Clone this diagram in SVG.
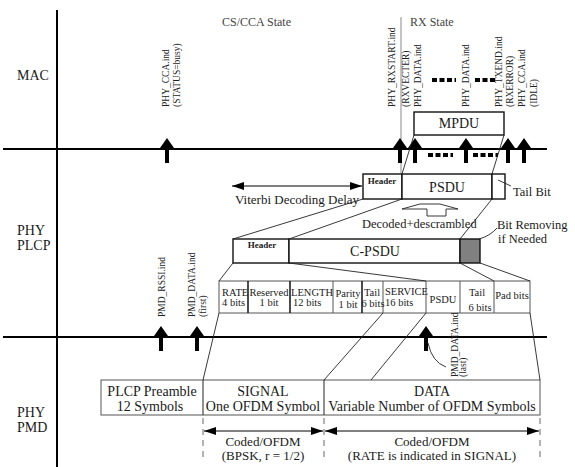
<svg xmlns="http://www.w3.org/2000/svg" width="575" height="467" viewBox="0 0 575 467">
<defs>
<style>
text{font-family:"Liberation Serif","Times New Roman",serif;fill:#1a1a1a}
.lane{font-size:14px}
.st{font-size:12px;fill:#444}
.v{font-size:9.5px;fill:#222}
.f{font-size:10.5px}
.big{font-size:14px}
.dt{font-size:13px}
.hd{font-size:9px;font-weight:bold}
.box{fill:#fff;stroke:#111;stroke-width:1.4}
.thin{stroke:#222;stroke-width:0.9;fill:none}
.axis{stroke:#000;stroke-width:2;fill:none}
.cell{fill:#fff;stroke:#555;stroke-width:1}
.dash{stroke:#000;stroke-width:4;stroke-dasharray:5 2.5}
.ddim{stroke:#666;stroke-width:1;stroke-dasharray:6 5}
.dim{stroke:#000;stroke-width:1}
</style>
<path id="ua" d="M0,0 L7,10 L2,10 L2,25 L-2,25 L-2,10 L-7,10 Z" fill="#000"/>
<marker id="tri" viewBox="0 0 12 8" refX="12" refY="4" markerWidth="12" markerHeight="8" markerUnits="userSpaceOnUse" orient="auto-start-reverse"><path d="M0,0 L12,4 L0,8 Z" fill="#000"/></marker>
</defs>

<g id="axes">
<line class="axis" x1="57" y1="10" x2="57" y2="467"/>
<line class="axis" x1="3" y1="149" x2="547" y2="149"/>
<line class="axis" x1="3" y1="337" x2="547" y2="337"/>
<line x1="401" y1="17" x2="401" y2="173" stroke="#888" stroke-width="1"/>
</g>

<g id="lane-labels">
<text class="lane" x="17" y="80">MAC</text>
<text class="lane" x="17" y="235">PHY</text>
<text class="lane" x="17" y="250">PLCP</text>
<text class="lane" x="17" y="417">PHY</text>
<text class="lane" x="17" y="432">PMD</text>
<text class="st" x="222" y="26">CS/CCA State</text>
<text class="st" x="410" y="26">RX State</text>
</g>

<g id="mac-primitives">
<text class="v" transform="translate(169,107) rotate(-90)">PHY_CCA.ind</text>
<text class="v" transform="translate(180,107) rotate(-90)">(STATUS=busy)</text>
<text class="v" transform="translate(395,107) rotate(-90)">PHY_RXSTART.ind</text>
<text class="v" transform="translate(409,107) rotate(-90)">(RXVECTER)</text>
<text class="v" transform="translate(421,107) rotate(-90)">PHY_DATA.ind</text>
<text class="v" transform="translate(469,107) rotate(-90)">PHY_DATA.ind</text>
<text class="v" transform="translate(502,107) rotate(-90)">PHY_TXEND.ind</text>
<text class="v" transform="translate(513,107) rotate(-90)">(RXERROR)</text>
<text class="v" transform="translate(525,107) rotate(-90)">PHY_CCA.ind</text>
<text class="v" transform="translate(537,107) rotate(-90)">(IDLE)</text>
<line class="dash" x1="432" y1="80" x2="456" y2="80"/>
<line class="dash" x1="475" y1="80" x2="496" y2="80"/>
</g>

<g id="mpdu">
<rect class="box" x="414" y="112" width="90" height="23"/>
<text class="big" x="459" y="128" text-anchor="middle">MPDU</text>
</g>

<g id="mac-arrows">
<use href="#ua" x="167" y="138"/>
<use href="#ua" x="400" y="138"/>
<use href="#ua" x="415" y="138"/>
<use href="#ua" x="466" y="138"/>
<use href="#ua" x="508" y="138"/>
<use href="#ua" x="524" y="138"/>
<line class="dash" x1="428" y1="155" x2="453" y2="155"/>
<line class="dash" x1="473" y1="155" x2="498" y2="155"/>
</g>

<g id="psdu-row">
<rect class="box" x="363" y="174" width="39" height="25"/>
<rect class="box" x="402" y="174" width="90" height="25"/>
<rect class="box" x="492" y="174" width="13" height="25"/>
<text class="hd" x="382" y="184" text-anchor="middle">Header</text>
<text class="big" x="447" y="192" text-anchor="middle">PSDU</text>
<text style="font-size:12.5px" x="513" y="196">Tail Bit</text>
</g>

<g id="viterbi">
<line class="dim" x1="232" y1="186" x2="362" y2="186" marker-start="url(#tri)" marker-end="url(#tri)"/>
<text style="font-size:13px" x="235" y="204">Viterbi Decoding Delay</text>
</g>

<g id="decode-arrow">
<path d="M402,209 L420,204 L440,204 L458,209 L446,209 L446,216 L427,216 L427,209 Z" fill="#fff" stroke="#222" stroke-width="0.9"/>
<text style="font-size:12.5px" x="362" y="228">Decoded+descrambled</text>
</g>

<g id="cpsdu-row">
<rect class="box" x="233" y="239" width="56" height="24"/>
<rect class="box" x="289" y="239" width="171" height="24"/>
<rect x="460" y="239" width="20" height="24" fill="#808080" stroke="#111" stroke-width="1.4"/>
<text class="hd" x="262" y="248" text-anchor="middle">Header</text>
<text class="big" x="375" y="256" text-anchor="middle">C-PSDU</text>
<text style="font-size:12.5px" x="497" y="229">Bit Removing</text>
<text style="font-size:12.5px" x="498" y="243">if Needed</text>
</g>

<g id="fields">
<rect class="cell" x="219" y="281" width="311" height="32"/>
<g stroke="#111" stroke-width="1.5">
<line x1="248" y1="281" x2="248" y2="313"/>
<line x1="290" y1="281" x2="290" y2="313"/>
<line x1="362" y1="281" x2="362" y2="313"/>
</g>
<g stroke="#555" stroke-width="1">
<line x1="333" y1="281" x2="333" y2="313"/>
<line x1="383" y1="281" x2="383" y2="313"/>
<line x1="426" y1="281" x2="426" y2="313"/>
<line x1="460" y1="281" x2="460" y2="313"/>
<line x1="494" y1="281" x2="494" y2="313"/>
</g>
<text class="f" x="222" y="296">RATE</text>
<text class="f" x="222" y="306">4 bits</text>
<text class="f" x="269" y="296" text-anchor="middle">Reserved</text>
<text class="f" x="269" y="306" text-anchor="middle">1 bit</text>
<text class="f" x="291" y="296">LENGTH</text>
<text class="f" x="293" y="306">12 bits</text>
<text class="f" x="348" y="297" text-anchor="middle">Parity</text>
<text class="f" x="348" y="308" text-anchor="middle">1 bit</text>
<text class="f" x="372" y="296" text-anchor="middle">Tail</text>
<text class="f" x="373" y="307" text-anchor="middle">6 bits</text>
<text class="f" x="385" y="295">SERVICE</text>
<text class="f" x="385" y="306">16 bits</text>
<text class="f" x="443" y="303" text-anchor="middle">PSDU</text>
<text class="f" x="477" y="296" text-anchor="middle">Tail</text>
<text class="f" x="480" y="311" text-anchor="middle">6 bits</text>
<text class="f" x="512" y="299" text-anchor="middle">Pad bits</text>
</g>

<g id="pmd-primitives">
<text class="v" transform="translate(165,317) rotate(-90)">PMD_RSSI.ind</text>
<text class="v" transform="translate(195,317) rotate(-90)">PMD_DATA.ind</text>
<text class="v" transform="translate(206,317) rotate(-90)">(first)</text>
<text class="v" transform="translate(458,377) rotate(-90)">PMD_DATA.ind</text>
<text class="v" transform="translate(466,377) rotate(-90)">(last)</text>
<use href="#ua" x="161" y="326"/>
<use href="#ua" x="197" y="326"/>
<use href="#ua" x="426" y="326"/>
</g>

<g id="ppdu">
<rect class="cell" x="101" y="380" width="439" height="35" stroke="#222"/>
<line x1="203" y1="380" x2="203" y2="415" stroke="#222" stroke-width="1"/>
<line x1="324" y1="380" x2="324" y2="415" stroke="#222" stroke-width="1"/>
<text class="big" x="152" y="396" text-anchor="middle">PLCP Preamble</text>
<text class="big" x="150" y="411" text-anchor="middle">12 Symbols</text>
<text class="big" x="263" y="396" text-anchor="middle">SIGNAL</text>
<text class="big" x="263" y="411" text-anchor="middle">One OFDM Symbol</text>
<text class="big" x="432" y="396" text-anchor="middle">DATA</text>
<text class="big" x="432" y="411" text-anchor="middle">Variable Number of OFDM Symbols</text>
</g>

<g id="dimensions">
<line class="ddim" x1="203" y1="418" x2="203" y2="462"/>
<line class="ddim" x1="324" y1="418" x2="324" y2="462"/>
<line class="ddim" x1="540" y1="418" x2="540" y2="462"/>
<line class="dim" x1="204" y1="431" x2="323" y2="431" marker-start="url(#tri)" marker-end="url(#tri)"/>
<line class="dim" x1="325" y1="431" x2="539" y2="431" marker-start="url(#tri)" marker-end="url(#tri)"/>
<text class="dt" x="263" y="446" text-anchor="middle">Coded/OFDM</text>
<text class="dt" x="263" y="460" text-anchor="middle">(BPSK, r = 1/2)</text>
<text class="dt" x="432" y="446" text-anchor="middle">Coded/OFDM</text>
<text class="dt" x="432" y="460" text-anchor="middle">(RATE is indicated in SIGNAL)</text>
</g>

<g id="connectors" class="thin">
<line x1="414" y1="135" x2="402" y2="174"/>
<line x1="504" y1="135" x2="492" y2="174"/>
<line x1="498" y1="180" x2="511" y2="186"/>
<line x1="363" y1="199" x2="233" y2="239"/>
<line x1="402" y1="199" x2="289" y2="239"/>
<line x1="492" y1="199" x2="460" y2="239"/>
<path d="M479,239 Q490,236 497,228"/>
<line x1="233" y1="263" x2="219" y2="281"/>
<line x1="289" y1="263" x2="426" y2="281"/>
<line x1="460" y1="263" x2="494" y2="281"/>
<line x1="480" y1="263" x2="530" y2="281"/>
<line x1="219" y1="313" x2="203" y2="380"/>
<line x1="383" y1="313" x2="324" y2="380"/>
<line x1="426" y1="313" x2="371" y2="380"/>
<line x1="530" y1="313" x2="540" y2="380"/>
<path d="M428,343 Q432,362 446,367"/>
</g>
</svg>
